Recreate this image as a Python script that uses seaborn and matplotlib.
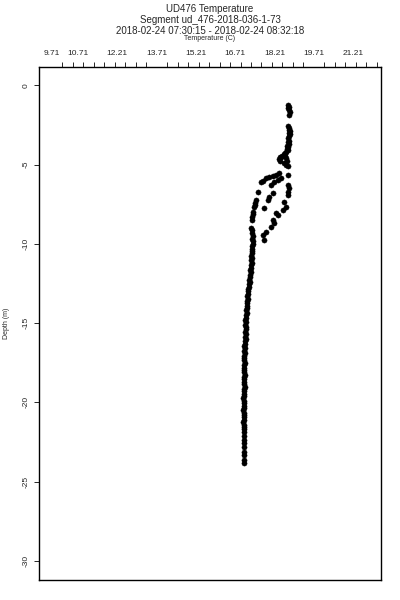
import numpy as np
import pandas as pd
import matplotlib
matplotlib.use("Agg")
import matplotlib.pyplot as plt
import seaborn as sns

# temperature (C) and depth (m)
temp_upper = [18.73, 18.76, 18.72, 18.75, 18.78, 18.76,
              18.74, 18.77, 18.75, 18.78, 18.76, 18.79, 18.77, 18.74, 18.76, 18.72,
              18.75, 18.70, 18.73, 18.68, 18.71, 18.66,
              18.62, 18.55, 18.50, 18.45, 18.40, 18.36, 18.40, 18.60, 18.65,
              18.58, 18.66, 18.72, 18.70,
              18.38, 18.27, 18.15, 18.00, 17.89, 17.77, 17.69,
              18.46, 18.35, 18.19, 18.08,
              18.73, 18.73, 18.75, 18.72, 18.74,
              17.58, 18.15, 18.00, 17.96,
              17.50, 17.48, 17.45, 17.43,
              18.58, 18.65, 18.54,
              17.81, 18.27, 18.35,
              17.39, 17.37, 17.35, 17.36,
              18.15, 18.19, 18.08,
              17.31, 17.33, 17.35, 17.37, 17.36, 17.39,
              17.89, 17.77, 17.81]
depth_upper = [-1.25, -1.35, -1.45, -1.55, -1.70, -1.85,
               -2.60, -2.70, -2.80, -2.90, -3.00, -3.10, -3.20, -3.35, -3.50, -3.60,
               -3.70, -3.80, -3.90, -4.00, -4.10, -4.20,
               -4.30, -4.35, -4.45, -4.50, -4.55, -4.65, -4.75, -4.45, -4.60,
               -4.90, -5.00, -5.10, -4.80,
               -5.55, -5.67, -5.70, -5.80, -5.86, -6.05, -6.10,
               -5.86, -5.99, -6.11, -6.30,
               -5.67, -6.30, -6.50, -6.70, -6.90,
               -6.74, -6.80, -7.06, -7.25,
               -7.25, -7.40, -7.55, -7.70,
               -7.37, -7.69, -7.88,
               -7.75, -8.07, -8.19,
               -8.00, -8.15, -8.30, -8.50,
               -8.51, -8.70, -8.95,
               -9.00, -9.15, -9.30, -9.50, -9.70, -9.85,
               -9.26, -9.45, -9.77]

temp_lower = [17.37, 17.35, 17.36, 17.33, 17.35, 17.32, 17.34, 17.31, 17.33, 17.30,
              17.31, 17.28, 17.30, 17.27, 17.29, 17.25, 17.26, 17.23, 17.25, 17.21,
              17.19, 17.21, 17.17, 17.19, 17.15, 17.17, 17.14, 17.16, 17.12, 17.14,
              17.11, 17.13, 17.09, 17.11, 17.07, 17.10, 17.12, 17.09, 17.11, 17.08,
              17.10, 17.07, 17.09, 17.06, 17.08, 17.05, 17.07, 17.04, 17.06, 17.05,
              17.07, 17.04, 17.06, 17.03, 17.05, 17.07, 17.04, 17.06, 17.03, 17.05,
              17.07, 17.04, 17.06, 17.03, 17.05, 17.02, 17.04, 17.06, 17.03, 17.05,
              17.02, 17.04, 17.06, 17.03, 17.05, 17.02, 17.04, 17.06, 17.03, 17.05,
              17.04, 17.05, 17.03, 17.05, 17.04, 17.03, 17.05, 17.04]
depth_lower = [-10.00, -10.15, -10.30, -10.45, -10.60, -10.75, -10.90, -11.05, -11.20, -11.35,
               -11.50, -11.65, -11.80, -11.95, -12.10, -12.25, -12.40, -12.55, -12.70, -12.85,
               -13.00, -13.15, -13.30, -13.45, -13.60, -13.75, -13.90, -14.05, -14.20, -14.35,
               -14.50, -14.65, -14.80, -14.95, -15.10, -15.25, -15.40, -15.55, -15.70, -15.85,
               -16.00, -16.15, -16.30, -16.45, -16.60, -16.75, -16.90, -17.05, -17.20, -17.35,
               -17.50, -17.65, -17.80, -17.95, -18.10, -18.25, -18.40, -18.55, -18.70, -18.85,
               -19.00, -19.15, -19.30, -19.45, -19.60, -19.75, -19.90, -20.05, -20.20, -20.35,
               -20.50, -20.65, -20.80, -20.95, -21.10, -21.25, -21.40, -21.55, -21.70, -21.85,
               -22.10, -22.35, -22.55, -22.80, -23.10, -23.30, -23.60, -23.85]

xtick_vals = [9.71, 10.71, 12.21, 13.71, 15.21, 16.71, 18.21, 19.71, 21.21]
ytick_vals = [0, -5, -10, -15, -20, -25, -30]

df = pd.DataFrame({
    "temp": temp_upper + temp_lower,
    "depth": depth_upper + depth_lower,
})

sns.set_style("ticks")
plt.rcParams["font.family"] = ["Liberation Sans", "DejaVu Sans"]

fig = plt.figure(figsize=(4, 6), dpi=100)
ax = fig.add_axes([0.0975, 0.0333, 0.855, 0.855])

sns.scatterplot(data=df, x="temp", y="depth", color="black", s=14,
                edgecolor="black", linewidth=0.3, ax=ax, legend=False)

ax.set_xlim(9.22, 22.27)
ax.set_ylim(-31.2, 1.15)

# top axis: labels at the reference values, tick marks every 0.4
ax.xaxis.tick_top()
ax.set_xticks(xtick_vals)
ax.set_xticklabels([f"{v:.2f}" for v in xtick_vals], fontsize=6)
ax.set_xticks(np.arange(9.71, 22.2, 0.4), minor=True)
ax.tick_params(axis="x", which="major", length=0, pad=7.5)
ax.tick_params(axis="x", which="minor", length=3.6, width=0.7, top=True, bottom=False)

ax.set_yticks(ytick_vals)
ax.set_yticklabels([str(v) for v in ytick_vals], fontsize=6, rotation=90, va="center")
ax.tick_params(axis="y", which="major", length=3.6, width=0.7, pad=3)

ax.set_xlabel("")
ax.set_ylabel("Depth (m)", fontsize=5, labelpad=9)

for side in ax.spines.values():
    side.set_linewidth(1.0)
    side.set_color("black")

fig.text(0.525, 0.993, "UD476 Temperature", ha="center", va="top", fontsize=7)
fig.text(0.525, 0.975, "Segment ud_476-2018-036-1-73", ha="center", va="top", fontsize=7)
fig.text(0.525, 0.957, "2018-02-24 07:30:15 - 2018-02-24 08:32:18", ha="center", va="top", fontsize=7)
fig.text(0.525, 0.9415, "Temperature (C)", ha="center", va="top", fontsize=5)

fig.savefig("out.png", dpi=100)
